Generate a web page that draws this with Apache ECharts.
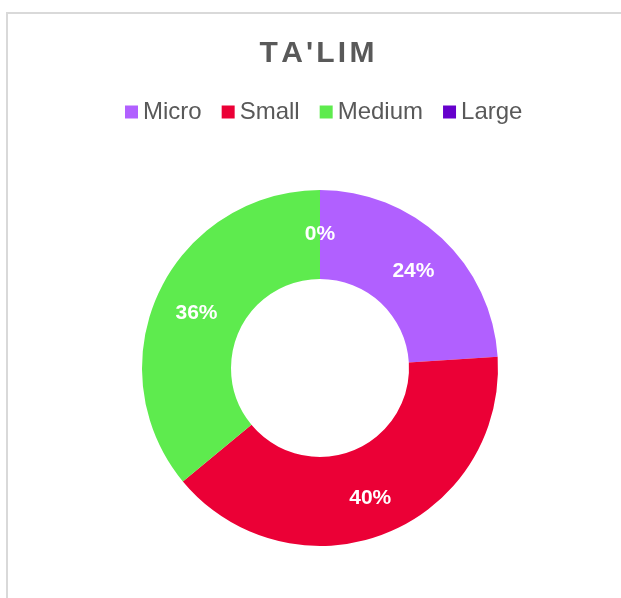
<!DOCTYPE html>
<html>
<head>
<meta charset="utf-8">
<script src="https://cdn.jsdelivr.net/npm/echarts@6/dist/echarts.min.js"></script>
<style>
  html, body { margin: 0; padding: 0; background: #fff; }
  #main { width: 621px; height: 598px; }
</style>
</head>
<body>
<div id="main"></div>
<script>
var titleText = "TA'LIM";
var categories = ['Micro', 'Small', 'Medium', 'Large'];
var shares = [24, 40, 36, 0];
var colors = ['#b160ff', '#eb0036', '#5eeb4e', '#6600cc'];

// spread the title letters a bit (canvas text has no letter spacing)
var spaced = titleText.split('').map(function (c) { return '{s|' + c + '}'; }).join('');

var chart = echarts.init(document.getElementById('main'));
var option = {
    color: colors,
    graphic: [{
        type: 'rect',
        shape: { x: 7, y: 13, width: 700, height: 700 },
        style: { fill: 'none', stroke: '#d9d9d9', lineWidth: 2 },
        silent: true
    }],
    title: {
        text: spaced,
        left: 258,
        top: 39,
        padding: 0,
        textStyle: {
            rich: {
                s: {
                    fontFamily: 'Liberation Sans, Arial, sans-serif',
                    fontSize: 30,
                    fontWeight: 'bold',
                    color: '#595959',
                    padding: [0, 1.6]
                }
            }
        }
    },
    legend: {
        top: 95,
        left: 120,
        itemWidth: 13,
        itemHeight: 13,
        itemGap: 20,
        icon: 'rect',
        textStyle: {
            fontFamily: 'Liberation Sans, Arial, sans-serif',
            fontSize: 24,
            color: '#595959'
        },
        data: categories
    },
    series: [{
        type: 'pie',
        center: [320, 368],
        radius: [89, 178],
        startAngle: 90,
        clockwise: true,
        avoidLabelOverlap: false,
        label: {
            show: true,
            position: 'inside',
            formatter: '{d}%',
            color: '#fff',
            fontFamily: 'Liberation Sans, Arial, sans-serif',
            fontSize: 21,
            fontWeight: 'bold',
            offset: [0, 3]
        },
        labelLine: { show: false },
        emphasis: { scale: false },
        data: categories.map(function (name, i) {
            return { name: name, value: shares[i] };
        })
    }]
};
chart.setOption(option);
</script>
</body>
</html>
